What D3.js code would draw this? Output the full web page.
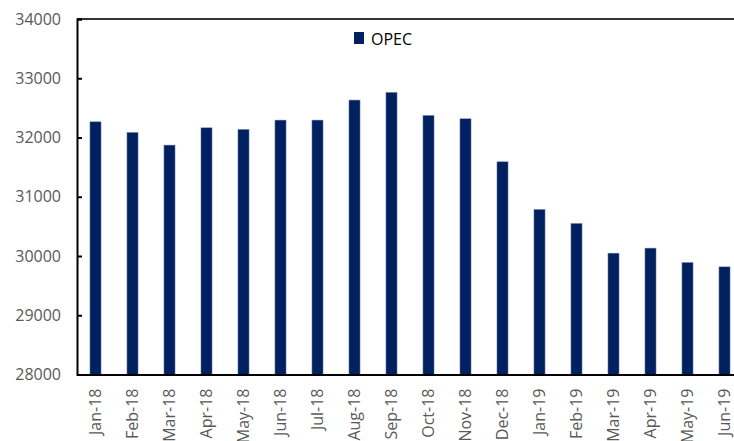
<!DOCTYPE html>
<html>
<head>
<meta charset="utf-8">
<script src="https://cdn.jsdelivr.net/npm/d3@7"></script>
<style>
  body { margin: 0; background: #fff; overflow: hidden; }
  svg { display: block; }
</style>
</head>
<body>
<svg id="chart" width="734" height="441"></svg>
<script>
const months = ["Jan-18", "Feb-18", "Mar-18", "Apr-18", "May-18", "Jun-18", "Jul-18", "Aug-18", "Sep-18",
  "Oct-18", "Nov-18", "Dec-18", "Jan-19", "Feb-19", "Mar-19", "Apr-19", "May-19", "Jun-19"];
const opec = [32265, 32086, 31872, 32164, 32137, 32294, 32294, 32632, 32762,
  32373, 32316, 31590, 30786, 30550, 30048, 30133, 29891, 29817];
const yTicks = [28000, 29000, 30000, 31000, 32000, 33000, 34000];
const seriesName = "OPEC";

const width = 734;
const height = 441;
// plot runs past the right edge of the picture (cropped like the original)
const margins = { top: 19, right: -9, bottom: 66.5, left: 77 };
const barColor = "#002060";

const svg = d3.select("#chart");

const x = d3
  .scaleBand()
  .domain(months)
  .range([margins.left, width - margins.right])
  .paddingInner(0.7)
  .paddingOuter(0.35);

const y = d3
  .scaleLinear()
  .domain([28000, 34000])
  .range([height - margins.bottom, margins.top]);

// bars
svg
  .selectAll(".bar")
  .data(opec)
  .enter()
  .append("rect")
  .attr("class", "bar")
  .attr("x", (d, i) => x(months[i]))
  .attr("y", (d) => y(d))
  .attr("width", x.bandwidth())
  .attr("height", (d) => y(28000) - y(d))
  .attr("fill", barColor)
  .attr("stroke", "#7f8fb0")
  .attr("stroke-width", 0.5);

// top border
svg
  .append("line")
  .attr("x1", margins.left)
  .attr("x2", width - margins.right)
  .attr("y1", y(34000))
  .attr("y2", y(34000))
  .attr("stroke", "#333")
  .attr("stroke-width", 2);

// y axis, ticks inside
const yAxis = svg
  .append("g")
  .attr("transform", `translate(${margins.left},0)`)
  .call(d3.axisRight(y).tickValues(yTicks).tickSize(5).tickFormat(d3.format("d")));
yAxis.select(".domain").attr("stroke", "#000").attr("stroke-width", 2);
yAxis.selectAll(".tick line").attr("stroke", "#000").attr("stroke-width", 2);
yAxis
  .selectAll(".tick text")
  .attr("x", -16)
  .attr("text-anchor", "end")
  .attr("fill", "#595959")
  .attr("font-family", "Open Sans, sans-serif")
  .attr("font-size", "16px");

// x axis
const xAxis = svg
  .append("g")
  .attr("transform", `translate(0,${y(28000)})`)
  .call(d3.axisBottom(x).tickSize(0).tickSizeOuter(0));
xAxis.select(".domain").attr("stroke", "#000").attr("stroke-width", 2);
xAxis
  .selectAll(".tick text")
  .attr("transform", "rotate(-90)")
  .attr("x", -14)
  .attr("y", 0)
  .attr("dy", "0.35em")
  .attr("text-anchor", "end")
  .attr("fill", "#595959")
  .attr("font-family", "Open Sans, sans-serif")
  .attr("font-size", "16px");

// legend
const legend = svg.append("g").attr("transform", "translate(354,32)");
legend.append("rect").attr("width", 10).attr("height", 12).attr("fill", barColor);
legend
  .append("text")
  .attr("x", 17)
  .attr("y", 12.5)
  .attr("fill", "#000")
  .attr("font-family", "Open Sans, sans-serif")
  .attr("font-size", "16px")
  .text(seriesName);
</script>
</body>
</html>
